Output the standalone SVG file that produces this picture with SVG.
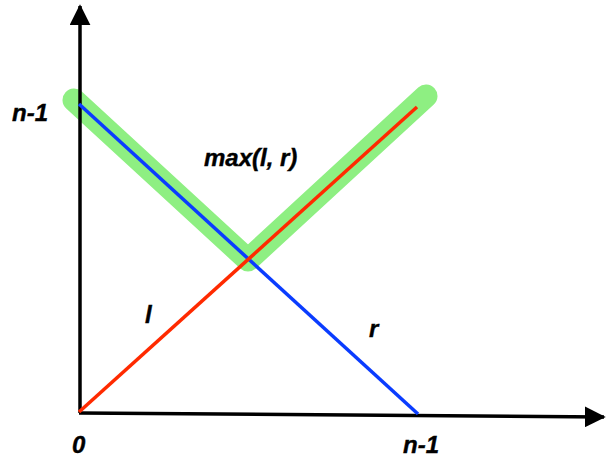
<svg xmlns="http://www.w3.org/2000/svg" width="607" height="458" viewBox="0 0 607 458">
<style>
.lbl{font-family:"Liberation Sans",Arial,sans-serif;font-weight:bold;font-style:italic;font-size:24px;fill:#000;stroke:#000;stroke-width:0.4}
.axis{stroke:#000;stroke-width:3.5;fill:none}
</style>
<defs>
<marker id="ah" markerWidth="6" markerHeight="6" refX="5.5" refY="3" orient="auto" markerUnits="strokeWidth">
<path d="M0,0 L6,3 L0,6 Z" fill="#000"/>
</marker>
</defs>
<rect width="607" height="458" fill="#fff"/>
<g id="highlight">
<polyline points="74,100 248,260 426,96" fill="none" stroke="#8eef82" stroke-width="23" stroke-linecap="round" stroke-linejoin="round"/>
</g>
<g id="connectors">
<line class="axis" x1="80" y1="413" x2="80" y2="6" marker-end="url(#ah)"/>
<line class="axis" x1="79" y1="413" x2="604" y2="417" marker-end="url(#ah)"/>
<line id="r-line" x1="79" y1="104" x2="418" y2="414" stroke="#0a3cff" stroke-width="3.5"/>
<line id="l-line" x1="79" y1="412" x2="417" y2="107" stroke="#ff2a00" stroke-width="3.5"/>
</g>
<g id="labels">
<text class="lbl" x="12" y="121">n-1</text>
<text class="lbl" x="204" y="166">max(l, r)</text>
<text class="lbl" x="145" y="323">l</text>
<text class="lbl" x="369" y="337">r</text>
<text class="lbl" x="72" y="453">0</text>
<text class="lbl" x="403" y="453">n-1</text>
</g>
</svg>
